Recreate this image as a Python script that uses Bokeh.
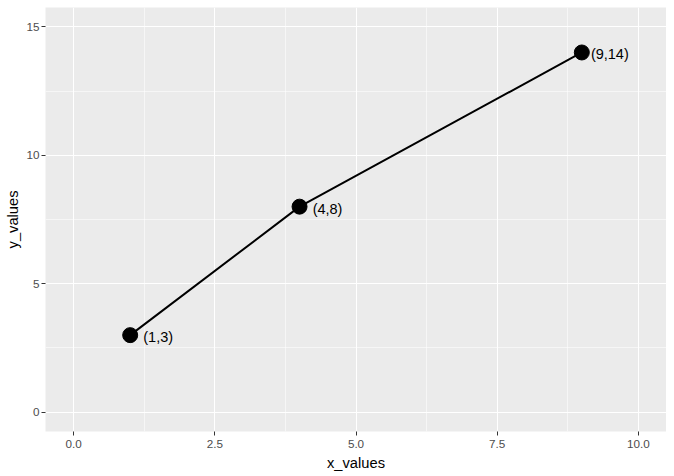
from bokeh.plotting import figure
from bokeh.models import ColumnDataSource, FixedTicker, PrintfTickFormatter, Range1d
from bokeh.core.properties import value
from bokeh.embed import file_html
from bokeh.resources import INLINE

x_values = [1, 4, 9]
y_values = [3, 8, 14]
point_labels = [f"({x},{y})" for x, y in zip(x_values, y_values)]

x_ticks = [0, 2.5, 5, 7.5, 10]
x_minor = [1.25, 3.75, 6.25, 8.75]
y_ticks = [0, 5, 10, 15]
y_minor = [2.5, 7.5, 12.5]

src = ColumnDataSource(dict(x=x_values, y=y_values, lab=point_labels))

FONT = "Liberation Sans"

p = figure(frame_width=621, frame_height=424, output_backend="svg", toolbar_location=None,
           x_range=Range1d(-0.5, 10.5), y_range=Range1d(-0.75, 15.75),
           min_border_left=45, min_border_right=0, min_border_top=7, min_border_bottom=0)

p.background_fill_color = "#EBEBEB"
p.border_fill_color = "white"
p.outline_line_color = None

p.xaxis.ticker = FixedTicker(ticks=x_ticks, minor_ticks=x_minor)
p.yaxis.ticker = FixedTicker(ticks=y_ticks, minor_ticks=y_minor)
p.xaxis.formatter = PrintfTickFormatter(format="%.1f")

for ax in (p.xaxis, p.yaxis):
    ax.axis_line_color = None
    ax.major_tick_line_color = "#333333"
    ax.major_tick_line_width = 1
    ax.major_tick_out = 4
    ax.major_tick_in = 0
    ax.minor_tick_line_color = None
    ax.major_label_text_font = FONT
    ax.major_label_text_font_size = "11.7px"
    ax.major_label_text_color = "#4D4D4D"
    ax.major_label_standoff = 2
    ax.axis_label_text_font = FONT
    ax.axis_label_text_font_size = "14.7px"
    ax.axis_label_text_font_style = "normal"
    ax.axis_label_text_color = "black"
    ax.axis_label_standoff = 2

p.xaxis.major_label_standoff = 4
p.xaxis.axis_label_standoff = 4

p.xaxis.axis_label = "x_values"
p.yaxis.axis_label = "y_values"

for g in (p.xgrid, p.ygrid):
    g.grid_line_color = "white"
    g.grid_line_width = 1.1
    g.minor_grid_line_color = "white"
    g.minor_grid_line_width = 0.55

p.line("x", "y", source=src, line_color="black", line_width=2)
p.scatter("x", "y", source=src, size=15, fill_color="black", line_color="black")
p.text("x", "y", text="lab", source=src, x_offset=28, y_offset=2,
       text_align="center", text_baseline="middle",
       text_font=value(FONT), text_font_size="14.5px", text_color="black")

open("out.html", "w").write(file_html(p, INLINE))
